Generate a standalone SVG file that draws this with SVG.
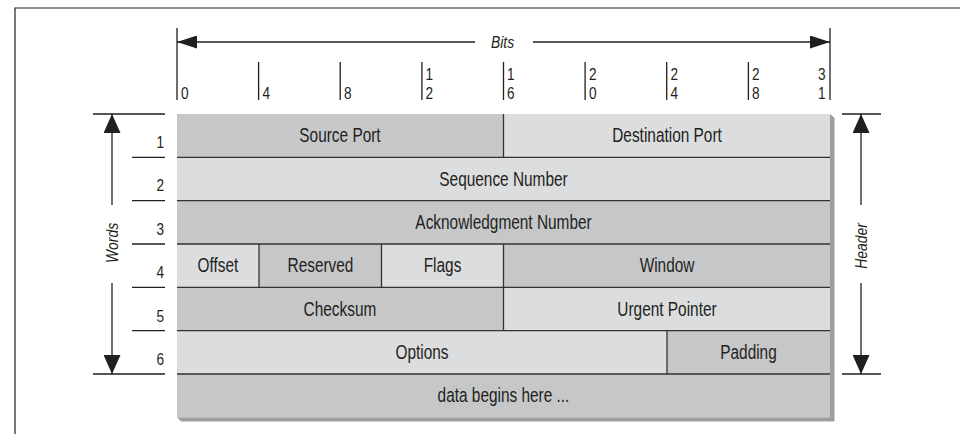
<svg xmlns="http://www.w3.org/2000/svg" width="960" height="434" viewBox="0 0 960 434">
<style>
  .t { font-family: "Liberation Sans", Arial, sans-serif; font-size: 19.5px; fill: #231f20; text-anchor: middle; transform-box: fill-box; transform-origin: center; transform: scaleX(0.79); }
  .d { font-family: "Liberation Sans", Arial, sans-serif; font-size: 17px; fill: #231f20; transform-box: fill-box; transform-origin: center; transform: scaleX(0.8); }
  .n { font-family: "Liberation Sans", Arial, sans-serif; font-size: 17px; fill: #231f20; text-anchor: end; transform-box: fill-box; transform-origin: center; transform: scaleX(0.8); }
  .i { font-family: "Liberation Sans", Arial, sans-serif; font-size: 17px; font-style: italic; fill: #231f20; text-anchor: middle; }
  .dk { fill: #c6c7c9; }
  .lt { fill: #dcdddf; }
  .sep { stroke: #333; stroke-width: 1.3; fill: none; }
  .ln { stroke: #231f20; stroke-width: 1.3; fill: none; }
</style>
<defs>
  <marker id="ah" viewBox="0 0 19 17" refX="19" refY="8.5" markerWidth="19" markerHeight="17" markerUnits="userSpaceOnUse" orient="auto">
    <path d="M0,0 L19,8.5 L0,17 z" fill="#231f20"/>
  </marker>
  <marker id="ahs" viewBox="0 0 20 13" refX="20" refY="6.5" markerWidth="20" markerHeight="13" markerUnits="userSpaceOnUse" orient="auto">
    <path d="M0,0 L20,6.5 L0,13 z" fill="#231f20"/>
  </marker>
</defs>
<rect width="960" height="434" fill="#fff"/>
<!-- frame -->
<path d="M15,434 V8 H960" stroke="#231f20" stroke-width="1.2" fill="none"/>

<!-- shadow -->
<polygon points="830,114 834.5,118 834.5,421.5 181,421.5 177,417.3 830,417.3" fill="#9d9ea0"/>

<g id="row1">
  <rect class="dk" x="177" y="114" width="326.5" height="43.3"/>
  <text class="t" x="340" y="142.5">Source Port</text>
</g>
<g id="row1b">
  <rect class="lt" x="503.5" y="114" width="326.5" height="43.3"/>
  <text class="t" x="667" y="142.5">Destination Port</text>
</g>
<g id="row2">
  <rect class="lt" x="177" y="157.3" width="653" height="43.4"/>
  <text class="t" x="503.5" y="185.8">Sequence Number</text>
</g>
<g id="row3">
  <rect class="dk" x="177" y="200.7" width="653" height="43.3"/>
  <text class="t" x="503.5" y="229.2">Acknowledgment Number</text>
</g>
<g id="offset">
  <rect class="lt" x="177" y="244" width="82" height="43.3"/>
  <text class="t" x="218" y="272.5">Offset</text>
</g>
<g id="reserved">
  <rect class="dk" x="259" y="244" width="122.5" height="43.3"/>
  <text class="t" x="320.5" y="272.5">Reserved</text>
</g>
<g id="flags">
  <rect class="lt" x="381.5" y="244" width="122" height="43.3"/>
  <text class="t" x="442.5" y="272.5">Flags</text>
</g>
<g id="window">
  <rect class="dk" x="503.5" y="244" width="326.5" height="43.3"/>
  <text class="t" x="667" y="272.5">Window</text>
</g>
<g id="checksum">
  <rect class="dk" x="177" y="287.3" width="326.5" height="43.4"/>
  <text class="t" x="340" y="315.8">Checksum</text>
</g>
<g id="urgent">
  <rect class="lt" x="503.5" y="287.3" width="326.5" height="43.4"/>
  <text class="t" x="667" y="315.8">Urgent Pointer</text>
</g>
<g id="options">
  <rect class="lt" x="177" y="330.7" width="490" height="43.3"/>
  <text class="t" x="422" y="359.2">Options</text>
</g>
<g id="padding">
  <rect class="dk" x="667" y="330.7" width="163" height="43.3"/>
  <text class="t" x="748.5" y="359.2">Padding</text>
</g>
<g id="data">
  <rect class="dk" x="177" y="374" width="653" height="43.3"/>
  <text class="t" x="503.5" y="402.5">data begins here ...</text>
</g>

<!-- separators -->
<g id="separators">
  <path class="sep" d="M177,157.3 H830 M177,200.7 H830 M177,244 H830 M177,287.3 H830 M177,330.7 H830 M177,374 H830"/>
  <path class="sep" d="M503.5,114 V157.3 M259,244 V287.3 M381.5,244 V287.3 M503.5,244 V330.7 M667,330.7 V374"/>
</g>

<!-- bits scale -->
<g id="bits">
  <path class="ln" d="M177,28 V100 M830,28 V100 M258.6,62 V100 M340.2,62 V100 M421.9,62 V100 M503.5,62 V100 M585.1,62 V100 M666.7,62 V100 M748.4,62 V100"/>
  <text class="d" x="180" y="99">0</text>
  <text class="d" x="261.5" y="99">4</text>
  <text class="d" x="343" y="99">8</text>
  <text class="d" x="424.5" y="80">1</text><text class="d" x="424.5" y="99">2</text>
  <text class="d" x="506" y="80">1</text><text class="d" x="506" y="99">6</text>
  <text class="d" x="588" y="80">2</text><text class="d" x="588" y="99">0</text>
  <text class="d" x="669.5" y="80">2</text><text class="d" x="669.5" y="99">4</text>
  <text class="d" x="751" y="80">2</text><text class="d" x="751" y="99">8</text>
  <text class="d" x="817" y="80">3</text><text class="d" x="817" y="99">1</text>
  <text class="i" x="502.5" y="48" transform="translate(502.5 0) scale(0.82 1) translate(-502.5 0)">Bits</text>
</g>

<!-- word numbers -->
<g id="words">
  <path class="ln" d="M93,114 H165 M93,374 H165 M132,157.3 H165 M132,200.7 H165 M132,244 H165 M132,287.3 H165 M132,330.7 H165"/>
  <text class="n" x="165" y="148">1</text>
  <text class="n" x="165" y="191.5">2</text>
  <text class="n" x="165" y="235">3</text>
  <text class="n" x="165" y="278.3">4</text>
  <text class="n" x="165" y="321.7">5</text>
  <text class="n" x="165" y="365">6</text>
  <text class="i" transform="translate(118 243) rotate(-90) scale(0.82 1)" x="0" y="0">Words</text>
</g>

<g id="header">
  <path class="ln" d="M842,114 H881 M842,374 H881"/>
  <text class="i" transform="translate(867 246) rotate(-90) scale(0.82 1)" x="0" y="0">Header</text>
</g>

<!-- connectors -->
<g id="connectors">
  <path class="ln" d="M475,42 H177" marker-end="url(#ahs)"/>
  <path class="ln" d="M533,42 H830" marker-end="url(#ahs)"/>
  <path class="ln" d="M112,205 V114" marker-end="url(#ah)"/>
  <path class="ln" d="M112,283 V374" marker-end="url(#ah)"/>
  <path class="ln" d="M861,205 V114" marker-end="url(#ah)"/>
  <path class="ln" d="M861,283 V374" marker-end="url(#ah)"/>
</g>
</svg>
